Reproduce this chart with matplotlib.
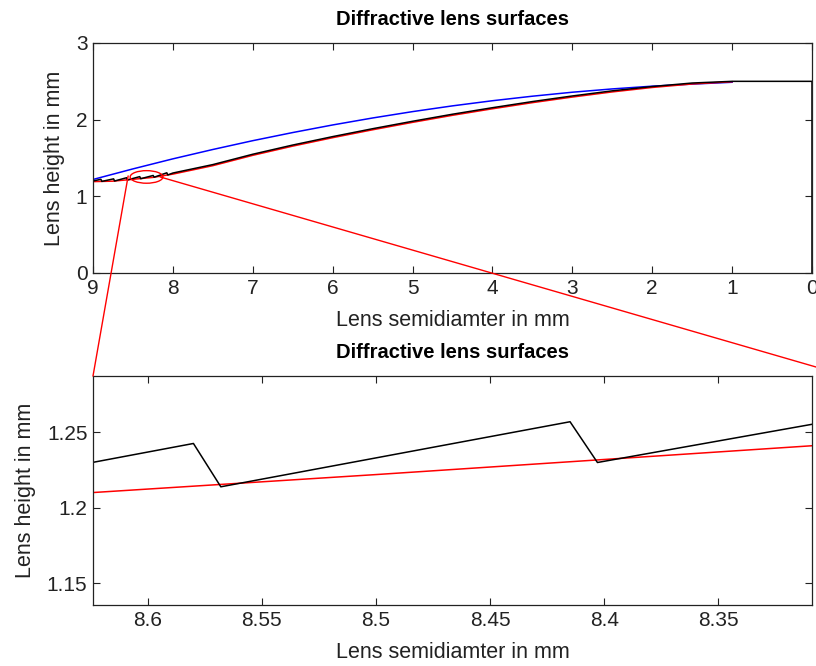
import matplotlib
matplotlib.use("Agg")
import matplotlib.pyplot as plt
from matplotlib.patches import Ellipse, ConnectionPatch
from matplotlib import font_manager

# --- surface data (radius in mm, height in mm) ---
# refractive base surface
r_base = [9.0, 8.75, 8.5, 8.25, 8.0, 7.5, 7.0, 6.5, 6.0, 5.5, 5.0,
          4.5, 4.0, 3.5, 3.0, 2.5, 2.0, 1.5, 1.0]
h_base = [1.192, 1.198, 1.222, 1.247, 1.290, 1.400, 1.535, 1.655, 1.765,
          1.868, 1.965, 2.057, 2.142, 2.222, 2.295, 2.362, 2.420, 2.466, 2.495]

# spherical reference surface
r_sphere = [9.0, 8.5, 8.0, 7.5, 7.0, 6.5, 6.0, 5.5, 5.0, 4.5, 4.0,
            3.5, 3.0, 2.5, 2.0, 1.5, 1.0]
h_sphere = [1.220, 1.358, 1.489, 1.611, 1.726, 1.832, 1.931, 2.022, 2.105,
            2.180, 2.247, 2.306, 2.358, 2.401, 2.437, 2.464, 2.488]

# diffractive surface (zone peaks and valleys near the rim, then the profile)
r_diff = [9.0, 8.901, 8.889, 8.742, 8.730, 8.580, 8.568, 8.415, 8.403,
          8.247, 8.235, 8.076, 8.064, 8.0, 7.5, 7.0, 6.5, 6.0, 5.5, 5.0,
          4.5, 4.0, 3.5, 3.0, 2.5, 2.0, 1.5, 1.0, 0.0, 0.0]
h_diff = [1.200, 1.222, 1.195, 1.228, 1.200, 1.2426, 1.2139, 1.2570, 1.2300,
          1.2720, 1.2496, 1.307, 1.279, 1.304, 1.414, 1.549, 1.669, 1.779,
          1.882, 1.979, 2.071, 2.156, 2.236, 2.309, 2.376, 2.432, 2.478,
          2.500, 2.500, 0.0]

top_xticks = [9, 8, 7, 6, 5, 4, 3, 2, 1, 0]
top_yticks = [0, 1, 2, 3]
zoom_xticks = [8.6, 8.55, 8.5, 8.45, 8.4, 8.35]
zoom_yticks = [1.15, 1.2, 1.25]
zoom_xlim = (8.624, 8.309)
zoom_ylim = (1.1356, 1.2873)

title_text = "Diffractive lens surfaces"
xlabel_text = "Lens semidiamter in mm"
ylabel_text = "Lens height in mm"

names = {f.name for f in font_manager.fontManager.ttflist}
base_font = "Liberation Sans" if "Liberation Sans" in names else "DejaVu Sans"

plt.rcParams["font.family"] = [base_font, "DejaVu Sans"]

fig = plt.figure(figsize=(8.16, 6.66), dpi=100)
ax_top = fig.add_axes([93 / 816, 1 - 273 / 666, 719 / 816, 230 / 666])
ax_zoom = fig.add_axes([93 / 816, 1 - 605 / 666, 719 / 816, 229 / 666])

lw = 1.1
for ax in (ax_top, ax_zoom):
    ax.plot(r_sphere, h_sphere, color=(0, 0, 1), lw=lw)
    ax.plot(r_base, h_base, color=(1, 0, 0), lw=lw)
    ax.plot(r_diff, h_diff, color="black", lw=lw)
    ax.tick_params(direction="in", top=True, right=True, length=5,
                   width=0.8, labelsize=15, pad=4, colors="#222222")
    for s in ax.spines.values():
        s.set_linewidth(0.9)
        s.set_color("#222222")
    ax.set_title(title_text, fontweight="bold", fontsize=14.5, pad=13)
    ax.set_xlabel(xlabel_text, fontsize=15.5, labelpad=9, color="#222222")

ax_top.set_xlim(9, 0)
ax_top.set_ylim(0, 3)
ax_top.set_xticks(top_xticks)
ax_top.set_yticks(top_yticks)
ax_top.set_ylabel(ylabel_text, fontsize=15.5, labelpad=8, color="#222222")

ax_zoom.set_xlim(*zoom_xlim)
ax_zoom.set_ylim(*zoom_ylim)
ax_zoom.set_xticks(zoom_xticks)
ax_zoom.set_xticklabels([f"{v:g}" for v in zoom_xticks])
ax_zoom.set_yticks(zoom_yticks)
ax_zoom.set_yticklabels([f"{v:g}" for v in zoom_yticks])
ax_zoom.set_ylabel(ylabel_text, fontsize=15.5, labelpad=8, color="#222222")

# zoom marker on the upper plot
ax_top.add_patch(Ellipse((8.33, 1.253), 0.41, 0.164, fill=False,
                         edgecolor="red", lw=1.0, zorder=5))

con1 = ConnectionPatch(xyA=(8.56, 1.266), coordsA=ax_top.transData,
                       xyB=(0.0, 1.0), coordsB=ax_zoom.transAxes,
                       color="red", lw=1.0)
con2 = ConnectionPatch(xyA=(8.16, 1.253), coordsA=ax_top.transData,
                       xyB=(1.0, 1 - 367 / 666), coordsB=fig.transFigure,
                       color="red", lw=1.0)
fig.add_artist(con1)
fig.add_artist(con2)

fig.savefig("out.png", dpi=100)
